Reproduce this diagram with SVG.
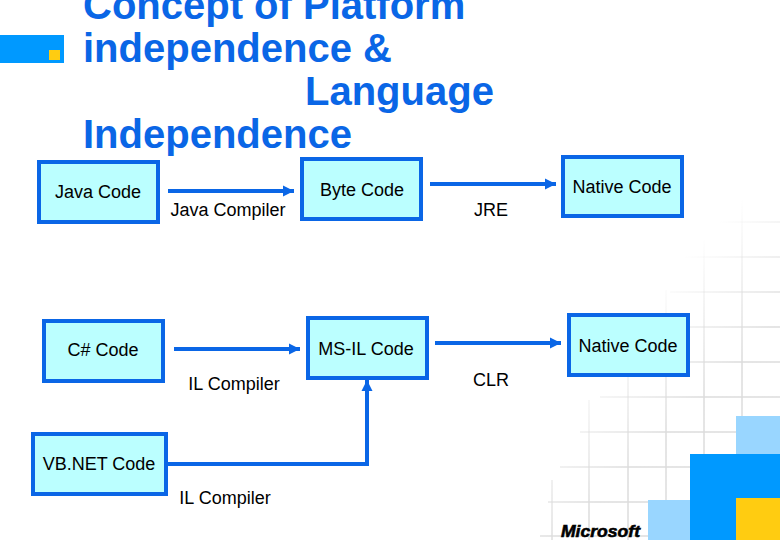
<svg xmlns="http://www.w3.org/2000/svg" width="780" height="540" viewBox="0 0 780 540">
<style>
.title{font:bold 40px "Liberation Sans",Arial,sans-serif;fill:#0a66e6}
.box{fill:#bbffff;stroke:#0a66e6;stroke-width:4}
.lbl{font:18px "Liberation Sans",Arial,sans-serif;fill:#000;text-anchor:middle}
.con{fill:none;stroke:#0a66e6;stroke-width:4}
.grid line{stroke:url(#fade);stroke-width:1.5}
</style>
<defs>
<marker id="arr" markerUnits="userSpaceOnUse" markerWidth="12" markerHeight="12" refX="11" refY="6" orient="auto"><path d="M0 .5L11 6L0 11.5Z" fill="#0a66e6"/></marker>
<linearGradient id="fade" gradientUnits="userSpaceOnUse" x1="470" y1="470" x2="550" y2="550"><stop offset="0" stop-color="#dcdcdc" stop-opacity="0"/><stop offset="1" stop-color="#dcdcdc"/></linearGradient>
</defs>
<rect width="780" height="540" fill="#fff"/>
<g id="background" class="grid">
<line x1="552" y1="480" x2="552" y2="540"/><line x1="589" y1="400" x2="589" y2="540"/><line x1="628" y1="370" x2="628" y2="540"/><line x1="666" y1="290" x2="666" y2="500"/><line x1="704" y1="240" x2="704" y2="454"/><line x1="742" y1="200" x2="742" y2="416"/>
<line x1="710" y1="222" x2="780" y2="222"/><line x1="680" y1="257" x2="780" y2="257"/><line x1="670" y1="292" x2="780" y2="292"/><line x1="665" y1="327" x2="780" y2="327"/><line x1="650" y1="362" x2="780" y2="362"/><line x1="600" y1="397" x2="780" y2="397"/><line x1="580" y1="432" x2="736" y2="432"/><line x1="560" y1="467" x2="690" y2="467"/><line x1="548" y1="502" x2="648" y2="502"/><line x1="540" y1="536" x2="648" y2="536"/>
</g>
<g id="deco">
<rect x="736" y="416" width="44" height="38" fill="#99d6ff"/><rect x="648" y="500" width="42" height="40" fill="#99d6ff"/><rect x="690" y="454" width="90" height="86" fill="#0099ff"/><rect x="736" y="498" width="44" height="42" fill="#ffcc11"/>
<rect y="35" width="64" height="28" fill="#0099ff"/><rect x="49" y="50" width="11" height="10" fill="#ffcc11"/>
<text x="561" y="537" font-family="'Liberation Sans',Arial,sans-serif" font-weight="bold" font-style="italic" font-size="17" textLength="79" lengthAdjust="spacingAndGlyphs" stroke="#000" stroke-width=".6">Microsoft</text>
</g>
<g id="title" class="title"><text x="83" y="19">Concept of Platform</text><text x="83" y="62">independence &amp;</text><text x="305" y="105">Language</text><text x="83" y="148">Independence</text></g>
<g id="connectors">
<path class="con" marker-end="url(#arr)" d="M168 191H294"/>
<path class="con" marker-end="url(#arr)" d="M430 184H556"/>
<path class="con" marker-end="url(#arr)" d="M174 349H300"/>
<path class="con" marker-end="url(#arr)" d="M435 343H561"/>
<path class="con" marker-end="url(#arr)" d="M168 464H367V380"/>
</g>
<g id="java"><rect class="box" x="39" y="162" width="119" height="60"/><text class="lbl" x="98" y="198">Java Code</text></g>
<g id="byte"><rect class="box" x="302" y="159" width="119" height="60"/><text class="lbl" x="362" y="195.500">Byte Code</text></g>
<g id="native1"><rect class="box" x="563" y="157" width="119" height="59"/><text class="lbl" x="622" y="192.500">Native Code</text></g>
<g id="csharp"><rect class="box" x="44" y="321" width="119" height="60"/><text class="lbl" x="103" y="356">C# Code</text></g>
<g id="msil"><rect class="box" x="308" y="318" width="119" height="60"/><text class="lbl" x="366" y="354.500">MS-IL Code</text></g>
<g id="native2"><rect class="box" x="569" y="315" width="119" height="60"/><text class="lbl" x="628" y="351.500">Native Code</text></g>
<g id="vbnet"><rect class="box" x="33" y="434" width="133" height="60"/><text class="lbl" x="99" y="470">VB.NET Code</text></g>
<g id="labels"><text class="lbl" x="228" y="216">Java Compiler</text><text class="lbl" x="491" y="216">JRE</text><text class="lbl" x="234" y="390">IL Compiler</text><text class="lbl" x="491" y="386">CLR</text><text class="lbl" x="225" y="504">IL Compiler</text></g>
</svg>
